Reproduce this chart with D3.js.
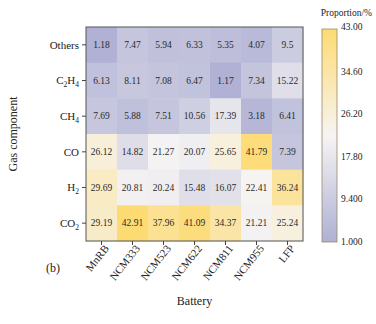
<!DOCTYPE html>
<html>
<head>
<meta charset="utf-8">
<script src="https://cdn.jsdelivr.net/npm/d3@7"></script>
<style>
  body { margin: 0; background: #fff; }
  svg { font-family: "Liberation Serif", "DejaVu Serif", serif; }
  .cell-label { font-size: 9.5px; fill: #2a2a2a; }
  .axis text { font-size: 11px; fill: #222; }
  .axis path, .axis line { stroke: #444; }
</style>
</head>
<body>
<svg></svg>
<script>
const batteries = ["MnRB", "NCM333", "NCM523", "NCM622", "NCM811", "NCM955", "LFP"]
const gases = ["Others", "C2H4", "CH4", "CO", "H2", "CO2"]
const gasLabels = {
  Others: ["Others"],
  C2H4: ["C", "2", "H", "4"],
  CH4: ["CH", "4"],
  CO: ["CO"],
  H2: ["H", "2"],
  CO2: ["CO", "2"]
}

// one row per gas, columns follow batteries
const others = [1.18, 7.47, 5.94, 6.33, 5.35, 4.07, 9.5]
const c2h4 = [6.13, 8.11, 7.08, 6.47, 1.17, 7.34, 15.22]
const ch4 = [7.69, 5.88, 7.51, 10.56, 17.39, 3.18, 6.41]
const co = [26.12, 14.82, 21.27, 20.07, 25.65, 41.79, 7.39]
const h2 = [29.69, 20.81, 20.24, 15.48, 16.07, 22.41, 36.24]
const co2 = [29.19, 42.91, 37.96, 41.09, 34.37, 21.21, 25.24]
const rows = [others, c2h4, ch4, co, h2, co2]

const colorTicks = [1.0, 9.4, 17.8, 26.2, 34.6, 43.0]
const colorTickLabels = ["1.000", "9.400", "17.80", "26.20", "34.60", "43.00"]

const data = []
rows.forEach((vals, i) => {
  vals.forEach((v, j) => {
    data.push({ gas: gases[i], battery: batteries[j], value: v })
  })
})

const svg = d3.select("svg")
  .attr("width", 376)
  .attr("height", 324)

const serif = '"Liberation Serif", "DejaVu Serif", serif'
const plotL = 86, plotR = 303, plotT = 27, plotB = 241

const scaleX = d3.scaleBand()
  .domain(batteries)
  .range([plotL, plotR])

const scaleY = d3.scaleBand()
  .domain(gases)
  .range([plotT, plotB])

const color = d3.scaleLinear()
  .domain([1, 22, 43])
  .range(["#afb0d4", "#f6f4f3", "#fddb72"])

svg.append("g")
  .selectAll("rect")
  .data(data)
  .enter()
  .append("rect")
  .attr("x", d => scaleX(d.battery))
  .attr("y", d => scaleY(d.gas))
  .attr("width", scaleX.bandwidth() + 0.5)
  .attr("height", scaleY.bandwidth() + 0.5)
  .attr("fill", d => color(d.value))

svg.append("g")
  .selectAll("text")
  .data(data)
  .enter()
  .append("text")
  .attr("class", "cell-label")
  .attr("x", d => scaleX(d.battery) + scaleX.bandwidth() / 2)
  .attr("y", d => scaleY(d.gas) + scaleY.bandwidth() / 2)
  .attr("text-anchor", "middle")
  .attr("dominant-baseline", "central")
  .text(d => d.value)

// frame
svg.append("rect")
  .attr("x", plotL)
  .attr("y", plotT)
  .attr("width", plotR - plotL)
  .attr("height", plotB - plotT)
  .attr("fill", "none")
  .attr("stroke", "#555")
  .attr("stroke-width", 1)

const axisY = d3.axisLeft(scaleY)
  .tickSizeInner(4)
  .tickSizeOuter(0)
  .tickPadding(2)
  .tickFormat("")

const axisYGroup = svg.append("g")
  .attr("class", "axis")
  .attr("transform", `translate(${plotL}, 0)`)
  .call(axisY)
  .attr("font-family", serif)
axisYGroup.select(".domain").remove()

axisYGroup.selectAll(".tick")
  .append("text")
  .attr("x", -7)
  .attr("dy", "0.35em")
  .attr("text-anchor", "end")
  .each(function(d) {
    const parts = gasLabels[d]
    const t = d3.select(this)
    parts.forEach((p, k) => {
      const isSub = /^\d$/.test(p)
      t.append("tspan")
        .text(p)
        .attr("font-size", isSub ? "7.5px" : null)
        .attr("dy", isSub ? "3" : (k > 0 ? "-3" : null))
    })
  })

const axisX = d3.axisBottom(scaleX)
  .tickSizeInner(4)
  .tickSizeOuter(0)
  .tickPadding(3)

const axisXGroup = svg.append("g")
  .attr("class", "axis")
  .attr("transform", `translate(0, ${plotB})`)
  .call(axisX)
  .attr("font-family", serif)
axisXGroup.select(".domain").remove()
axisXGroup.selectAll(".tick text")
  .attr("text-anchor", "end")
  .attr("dx", "-1")
  .attr("dy", "4")
  .attr("transform", "rotate(-52)")
  .attr("font-size", "10.5px")

svg.append("text")
  .attr("transform", `translate(17, ${(plotT + plotB) / 2}) rotate(-90)`)
  .attr("text-anchor", "middle")
  .attr("font-size", "12px")
  .attr("fill", "#222")
  .text("Gas component")

svg.append("text")
  .attr("x", (plotL + plotR) / 2)
  .attr("y", 305)
  .attr("text-anchor", "middle")
  .attr("font-size", "12px")
  .attr("fill", "#222")
  .text("Battery")

svg.append("text")
  .attr("x", 46)
  .attr("y", 272)
  .attr("font-size", "12px")
  .attr("fill", "#222")
  .text("(b)")

// colour bar
const barX = 322, barW = 15
const scaleC = d3.scaleLinear()
  .domain([1, 43])
  .range([242, 29])

const defs = svg.append("defs")
const grad = defs.append("linearGradient")
  .attr("id", "cbar")
  .attr("x1", 0).attr("y1", 1)
  .attr("x2", 0).attr("y2", 0)
d3.range(0, 1.001, 0.05).forEach(t => {
  grad.append("stop")
    .attr("offset", t)
    .attr("stop-color", color(1 + t * 42))
})

svg.append("rect")
  .attr("x", barX)
  .attr("y", scaleC(43))
  .attr("width", barW)
  .attr("height", scaleC(1) - scaleC(43))
  .attr("fill", "url(#cbar)")
  .attr("stroke", "#9a8a6a")
  .attr("stroke-width", 0.8)

svg.append("g")
  .selectAll("text")
  .data(colorTicks)
  .enter()
  .append("text")
  .attr("x", barX + barW + 4)
  .attr("y", (d, i) => scaleC(d) - (i === colorTicks.length - 1 ? 2 : 0))
  .attr("dominant-baseline", "central")
  .attr("font-size", "9.5px")
  .attr("fill", "#222")
  .text((d, i) => colorTickLabels[i])

svg.append("text")
  .attr("x", 372)
  .attr("y", 16)
  .attr("text-anchor", "end")
  .attr("font-size", "9.5px")
  .attr("fill", "#222")
  .text("Proportion/%")
</script>
</body>
</html>
